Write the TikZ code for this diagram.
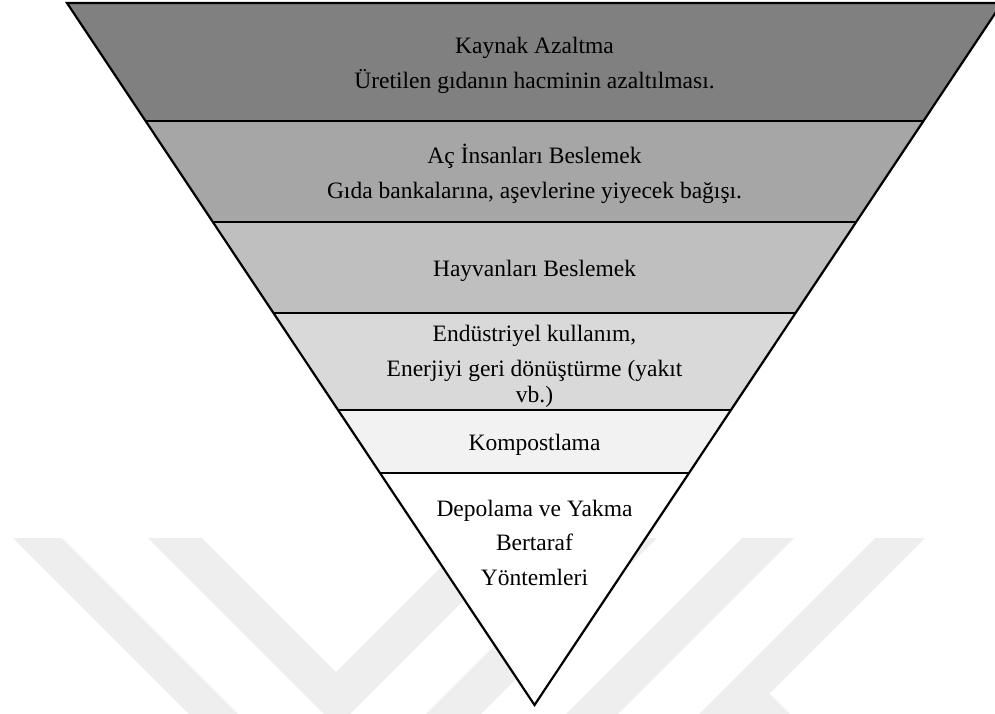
\documentclass[tikz,border=0pt]{standalone}
\usepackage{fontspec}
\setmainfont{Liberation Serif}
\definecolor{wm}{RGB}{238,238,238}
\definecolor{bandA}{RGB}{128,128,128}
\definecolor{bandB}{RGB}{166,166,166}
\definecolor{bandC}{RGB}{191,191,191}
\definecolor{bandD}{RGB}{217,217,217}
\definecolor{bandE}{RGB}{242,242,242}
\begin{document}
\begin{tikzpicture}[x=1pt,y=-1pt,
  lbl/.style={anchor=base, font=\fontsize{23.5}{27}\selectfont, inner sep=0pt},
  edgeline/.style={line width=2.2pt, line join=miter},
  mark/.style={fill=wm}]
\useasboundingbox (0,0) rectangle (995,713);
\clip (0,0) rectangle (995,713);
% watermark
\fill[wm] (13,538) -- (62,538) -- (247,723) -- (198,723) -- cycle;
\fill[wm] (148,538) -- (202,538) -- (336,672) -- (470,538) -- (526,538) -- (337,727) -- cycle;
\fill[wm] (602,538) -- (657,538) -- (472,723) -- (417,723) -- cycle;
\fill[wm] (742,538) -- (794,538) -- (609,723) -- (557,723) -- cycle;
\fill[wm] (875,538) -- (925,538) -- (769.5,693.5) -- (799,723) -- (698,723) -- (694,719) -- cycle;
% band corners
\coordinate (L0) at (67,3);      \coordinate (R0) at (1002,3);
\coordinate (L1) at (145.6,121); \coordinate (R1) at (923.4,121);
\coordinate (L2) at (212.8,222); \coordinate (R2) at (856.2,222);
\coordinate (L3) at (273.4,313); \coordinate (R3) at (795.6,313);
\coordinate (L4) at (338,410);   \coordinate (R4) at (731,410);
\coordinate (L5) at (380,473);   \coordinate (R5) at (689,473);
\coordinate (AP) at (534.5,705);
% bands
\fill[bandA] (L0) -- (R0) -- (R1) -- (L1) -- cycle;
\fill[bandB] (L1) -- (R1) -- (R2) -- (L2) -- cycle;
\fill[bandC] (L2) -- (R2) -- (R3) -- (L3) -- cycle;
\fill[bandD] (L3) -- (R3) -- (R4) -- (L4) -- cycle;
\fill[bandE] (L4) -- (R4) -- (R5) -- (L5) -- cycle;
\fill[white] (L5) -- (R5) -- (AP) -- cycle;
% outlines
\draw[edgeline] (L0) -- (AP) -- (R0) -- cycle;
\draw[edgeline] (L1) -- (R1);
\draw[edgeline] (L2) -- (R2);
\draw[edgeline] (L3) -- (R3);
\draw[edgeline] (L4) -- (R4);
\draw[edgeline] (L5) -- (R5);
% texts
\node[lbl] (t1a) at (534.5,53) {Kaynak Azaltma};
\node[lbl] (t1b) at (534.5,88) {Üretilen gıdanın hacminin azaltılması.};
\node[lbl] (t2a) at (534.5,163) {Aç İnsanları Beslemek};
\node[lbl] (t2b) at (534.5,198) {Gıda bankalarına, aşevlerine yiyecek bağışı.};
\node[lbl] (t3) at (534.5,276) {Hayvanları Beslemek};
\node[lbl] (t4a) at (534.5,341) {Endüstriyel kullanım,};
\node[lbl] (t4b) at (534.5,376) {Enerjiyi geri dönüştürme (yakıt};
\node[lbl] (t4c) at (534.5,402) {vb.)};
\node[lbl] (t5) at (534.5,450) {Kompostlama};
\node[lbl] (t6a) at (534.5,516) {Depolama ve Yakma};
\node[lbl] (t6b) at (534.5,550) {Bertaraf};
\node[lbl] (t6c) at (534.5,585) {Yöntemleri};
\end{tikzpicture}
\end{document}
